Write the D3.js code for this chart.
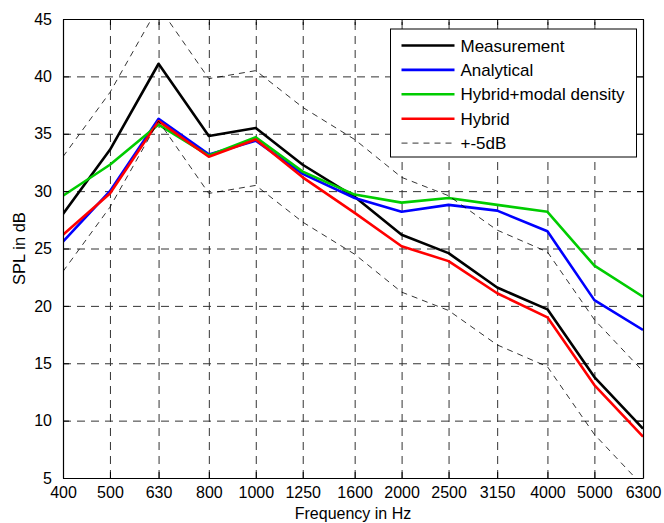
<!DOCTYPE html>
<html>
<head>
<meta charset="utf-8">
<script src="https://cdn.jsdelivr.net/npm/d3@7"></script>
<style>
  body { margin: 0; background: #fff; }
  svg { font-family: "Liberation Sans", Arial, Helvetica, sans-serif; }
</style>
</head>
<body>
<svg id="chart"></svg>
<script>
// Frequency bands (Hz)
const freqs = [400, 500, 630, 800, 1000, 1250, 1600, 2000, 2500, 3150, 4000, 5000, 6300];

// SPL values in dB
const measurement = [28.0, 33.6, 41.1, 34.8, 35.5, 32.3, 29.5, 26.2, 24.6, 21.6, 19.7, 13.8, 9.3];
const analytical  = [25.6, 30.0, 36.3, 33.2, 34.4, 31.5, 29.4, 28.2, 28.8, 28.3, 26.5, 20.5, 17.9];
const hybridModal = [29.6, 32.3, 35.8, 33.1, 34.7, 31.7, 29.7, 29.0, 29.4, 28.8, 28.2, 23.5, 20.8];
const hybrid      = [26.2, 29.8, 36.1, 33.0, 34.5, 31.2, 28.1, 25.2, 23.9, 21.1, 19.0, 13.1, 8.6];
const upper5      = [33.0, 38.6, 46.1, 39.8, 40.5, 37.3, 34.5, 31.2, 29.6, 26.6, 24.7, 18.8, 14.3];
const lower5      = [23.0, 28.6, 36.1, 29.8, 30.5, 27.3, 24.5, 21.2, 19.6, 16.6, 14.7, 8.8, 4.3];

const yTicks = [5, 10, 15, 20, 25, 30, 35, 40, 45];

const series = [
    { name: "Measurement", values: measurement, color: "#000000" },
    { name: "Analytical", values: analytical, color: "#0000ff" },
    { name: "Hybrid+modal density", values: hybridModal, color: "#00cc00" },
    { name: "Hybrid", values: hybrid, color: "#ff0000" }
];

// Set up dimensions and margins
const W = 664, H = 523;
const margin = { top: 19, right: 21, bottom: 45, left: 63 };
const width = W - margin.left - margin.right;
const height = H - margin.top - margin.bottom;

const svg = d3.select("#chart")
    .attr("width", W)
    .attr("height", H)
    .append("g")
    .attr("transform", `translate(${margin.left},${margin.top})`);

// Scales: log frequency axis, linear dB axis
const x = d3.scaleLog().domain([400, 6300]).range([0, width]);
const y = d3.scaleLinear().domain([5, 45]).range([height, 0]);

svg.append("defs").append("clipPath")
    .attr("id", "clip")
    .append("rect")
    .attr("width", width)
    .attr("height", height);

// Grid lines
svg.append("g")
    .attr("class", "grid")
    .attr("transform", `translate(0,${height})`)
    .call(d3.axisBottom(x).tickValues(freqs.slice(1, -1)).tickSize(-height).tickFormat(""))
    .call(g => g.select(".domain").remove());

svg.append("g")
    .attr("class", "grid")
    .call(d3.axisLeft(y).tickValues(yTicks.slice(1, -1)).tickSize(-width).tickFormat(""))
    .call(g => g.select(".domain").remove());

svg.selectAll(".grid line")
    .attr("stroke", "#333")
    .attr("stroke-width", 1)
    .attr("stroke-dasharray", "8,6");

const line = d3.line()
    .x((d, i) => x(freqs[i]))
    .y(d => y(d));

const plot = svg.append("g").attr("clip-path", "url(#clip)");

// Data lines
series.forEach(s => {
    plot.append("path")
        .datum(s.values)
        .attr("fill", "none")
        .attr("stroke", s.color)
        .attr("stroke-width", 2.6)
        .attr("stroke-linejoin", "round")
        .attr("d", line);
});

// +-5 dB band
[upper5, lower5].forEach(vals => {
    plot.append("path")
        .datum(vals)
        .attr("fill", "none")
        .attr("stroke", "#000")
        .attr("stroke-width", 0.8)
        .attr("stroke-dasharray", "6,5")
        .attr("d", line);
});

// Axes (ticks pointing inward, on all four sides)
const fontSize = 16;

svg.append("g")
    .attr("transform", `translate(0,${height})`)
    .call(d3.axisBottom(x).tickValues(freqs).tickFormat(d3.format("d")).tickSizeInner(-6).tickSizeOuter(0).tickPadding(9))
    .call(g => g.selectAll("text").attr("font-size", fontSize).attr("fill", "#000").attr("font-family", null));

svg.append("g")
    .call(d3.axisLeft(y).tickValues(yTicks).tickSizeInner(-6).tickSizeOuter(0).tickPadding(11))
    .call(g => g.selectAll("text").attr("font-size", fontSize).attr("fill", "#000").attr("font-family", null));

svg.append("g")
    .call(d3.axisTop(x).tickValues(freqs).tickFormat("").tickSizeInner(-6).tickSizeOuter(0));

svg.append("g")
    .attr("transform", `translate(${width},0)`)
    .call(d3.axisRight(y).tickValues(yTicks).tickFormat("").tickSizeInner(-6).tickSizeOuter(0));

svg.selectAll(".domain").attr("stroke", "#000").attr("stroke-width", 1.2);

// Axis labels
svg.append("text")
    .attr("x", width / 2)
    .attr("y", height + 41)
    .attr("text-anchor", "middle")
    .attr("font-size", fontSize)
    .text("Frequency in Hz");

svg.append("text")
    .attr("transform", "rotate(-90)")
    .attr("x", -height / 2)
    .attr("y", -margin.left + 25)
    .attr("text-anchor", "middle")
    .attr("font-size", fontSize + 0.5)
    .text("SPL in dB");

// Legend
const legendItems = series.map(s => ({ name: s.name, color: s.color, dash: null, w: 2.6 }))
    .concat([{ name: "+-5dB", color: "#000", dash: "6,5", w: 0.8 }]);

const lx = 390.5 - margin.left, ly = 29 - margin.top;
const legend = svg.append("g").attr("transform", `translate(${lx},${ly})`);

legend.append("rect")
    .attr("width", 246)
    .attr("height", 128)
    .attr("fill", "#fff")
    .attr("stroke", "#000")
    .attr("stroke-width", 1);

const rows = legend.selectAll(".row")
    .data(legendItems)
    .enter()
    .append("g")
    .attr("transform", (d, i) => `translate(0,${16.5 + i * 24.4})`);

rows.append("line")
    .attr("x1", 11)
    .attr("x2", 64)
    .attr("stroke", d => d.color)
    .attr("stroke-width", d => d.w)
    .attr("stroke-dasharray", d => d.dash);

rows.append("text")
    .attr("x", 70)
    .attr("y", 6)
    .attr("font-size", 17)
    .text(d => d.name);
</script>
</body>
</html>
